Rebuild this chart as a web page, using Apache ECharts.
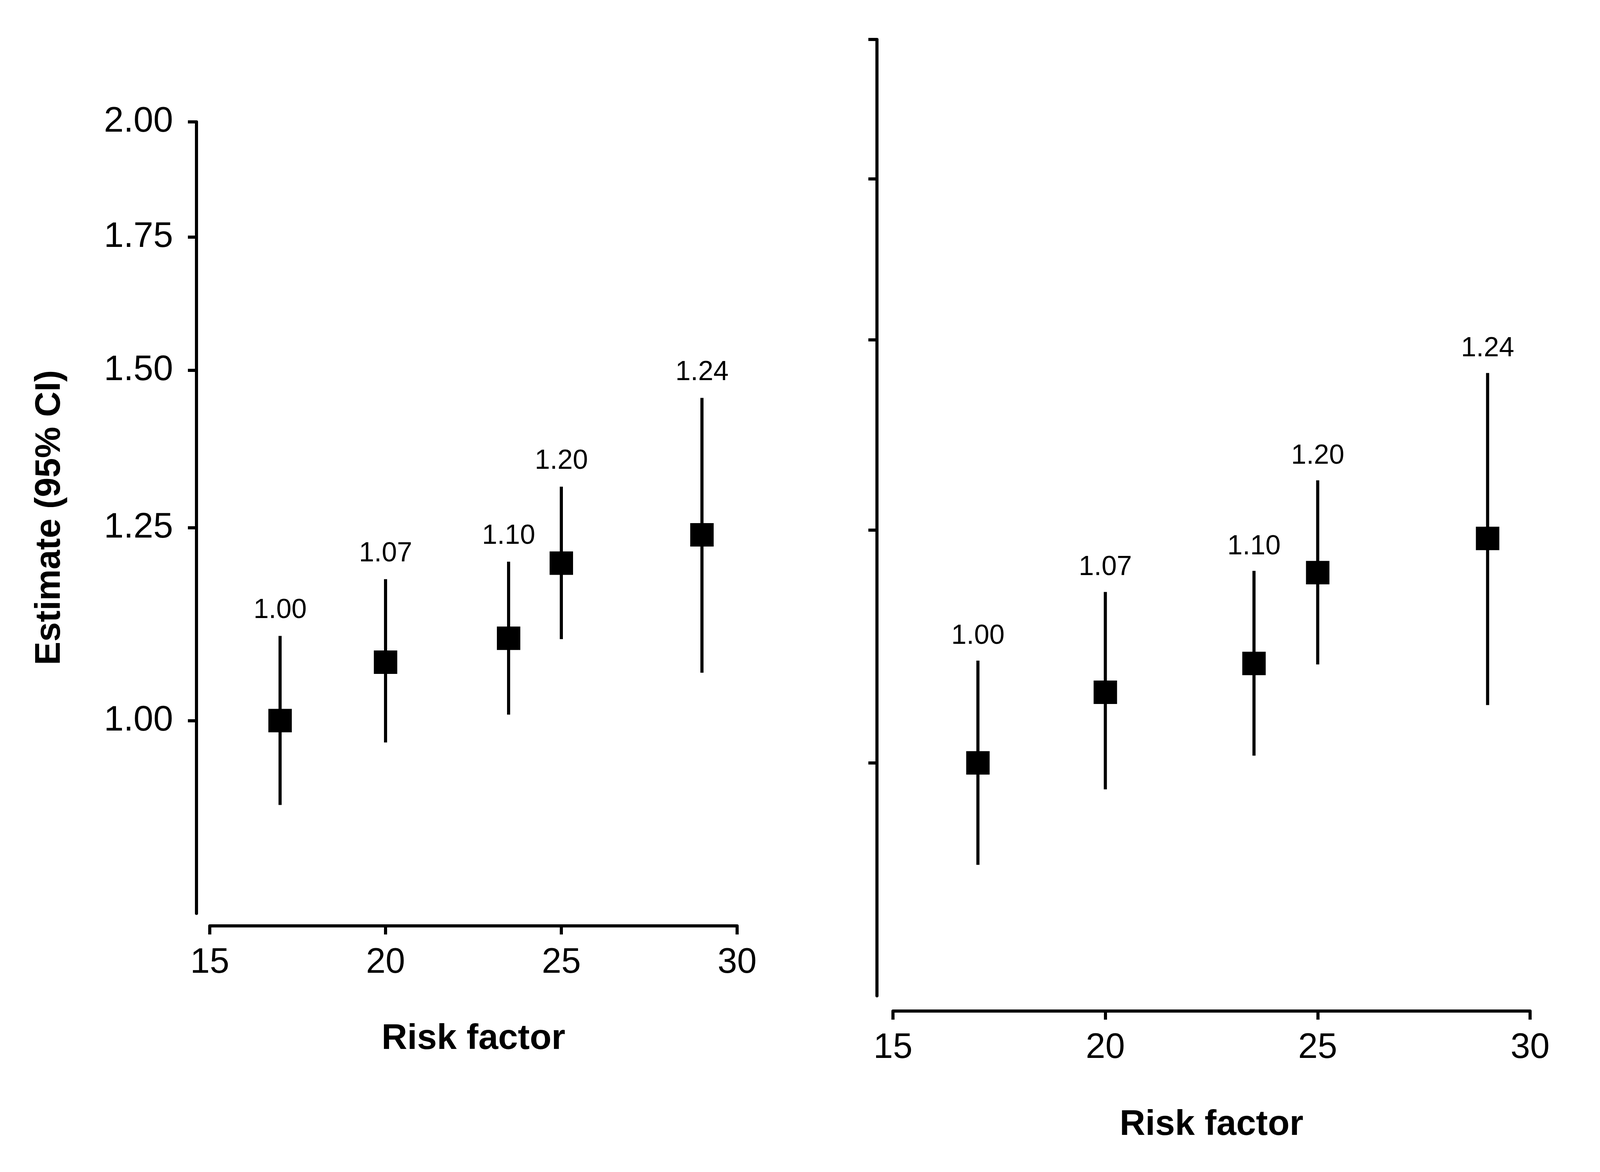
<!DOCTYPE html>
<html><head><meta charset="utf-8">
<script src="https://cdn.jsdelivr.net/npm/echarts@6/dist/echarts.min.js"></script>
<style>html,body{margin:0;padding:0;background:#fff}#chart{width:4200px;height:3000px}</style>
</head><body><div id="chart"></div>
<script>
// ---- data ----
const xValues   = [17, 20, 23.5, 25, 29];
const estimates = [1.00, 1.07, 1.10, 1.20, 1.24];
const lowerCI   = [0.907, 0.975, 1.007, 1.099, 1.057];
const upperCI   = [1.103, 1.178, 1.202, 1.311, 1.453];
const yTickValues = [1.00, 1.25, 1.50, 1.75, 2.00];
const xTickValues = [15, 20, 25, 30];
const xAxisTitle = 'Risk factor';
const yAxisTitle = 'Estimate (95% CI)';

const FONT = '"Liberation Sans", Arial, Helvetica, sans-serif';
const chart = echarts.init(document.getElementById('chart'), null, {renderer: 'canvas', width: 4200, height: 3000});

const rows = xValues.map((x, i) => [x, estimates[i], lowerCI[i], upperCI[i]]);

const panels = [
  {left: 537, width: 1350, top: 312, height: 2026, yOffset: 34, xOffset: 32, showY: true, xNameGap: 244, labelGap: 30},
  {left: 2286, width: 1631, top: 101, height: 2448, yOffset: 41, xOffset: 39, showY: false, xNameGap: 246, labelGap: 27}
];

const grid = [], xAxis = [], yAxis = [], series = [];
panels.forEach((p, idx) => {
  grid.push({left: p.left, top: p.top, width: p.width, height: p.height, containLabel: false});
  xAxis.push({
    gridIndex: idx, type: 'value', min: xTickValues[0], max: xTickValues[xTickValues.length - 1],
    interval: 5, offset: p.xOffset, position: 'bottom',
    axisLine: {show: true, onZero: false, lineStyle: {color: '#000', width: 8}},
    axisTick: {show: true, length: 22, inside: false, lineStyle: {color: '#000', width: 8}},
    axisLabel: {show: true, margin: 50, fontSize: 90, fontFamily: FONT, color: '#000'},
    splitLine: {show: false},
    name: xAxisTitle, nameLocation: 'middle', nameGap: p.xNameGap,
    nameTextStyle: {fontSize: 91, fontWeight: 'bold', fontFamily: FONT, color: '#000'}
  });
  yAxis.push({
    gridIndex: idx, type: 'log', min: 0.8, max: 2, offset: p.yOffset, position: 'left',
    axisLine: {show: true, onZero: false, lineStyle: {color: '#000', width: 8}},
    axisTick: {show: true, length: 22, inside: false, customValues: yTickValues, lineStyle: {color: '#000', width: 8}},
    axisLabel: {show: p.showY, customValues: yTickValues, formatter: v => Number(v).toFixed(2),
      margin: 60, fontSize: 91, fontFamily: FONT, color: '#000'},
    splitLine: {show: false}, minorTick: {show: false}, minorSplitLine: {show: false},
    name: p.showY ? yAxisTitle : '', nameLocation: 'middle', nameGap: 330,
    nameTextStyle: {fontSize: 90, fontWeight: 'bold', fontFamily: FONT, color: '#000'}
  });
  const gap = p.labelGap;
  series.push({
    type: 'custom', xAxisIndex: idx, yAxisIndex: idx, data: rows, z: 2, silent: true,
    renderItem: (params, api) => {
      const x = api.value(0), est = api.value(1), lo = api.value(2), hi = api.value(3);
      const pLo = api.coord([x, lo]);
      const pHi = api.coord([x, hi]);
      return {
        type: 'group',
        children: [
          {type: 'line', shape: {x1: pLo[0], y1: pLo[1], x2: pHi[0], y2: pHi[1]},
           style: {stroke: '#000', lineWidth: 8}},
          {type: 'text', x: pHi[0], y: pHi[1] - gap,
           style: {text: est.toFixed(2), fontSize: 70, fontFamily: FONT, fill: '#000',
                   align: 'center', verticalAlign: 'bottom'}}
        ]
      };
    }
  });
  series.push({
    type: 'scatter', xAxisIndex: idx, yAxisIndex: idx, z: 3, silent: true,
    data: rows.map(r => [r[0], r[1]]),
    symbol: 'rect', symbolSize: 60, itemStyle: {color: '#000', opacity: 1}
  });
});

chart.setOption({
  backgroundColor: '#fff',
  animation: false,
  grid, xAxis, yAxis, series
});
</script>
</body></html>
